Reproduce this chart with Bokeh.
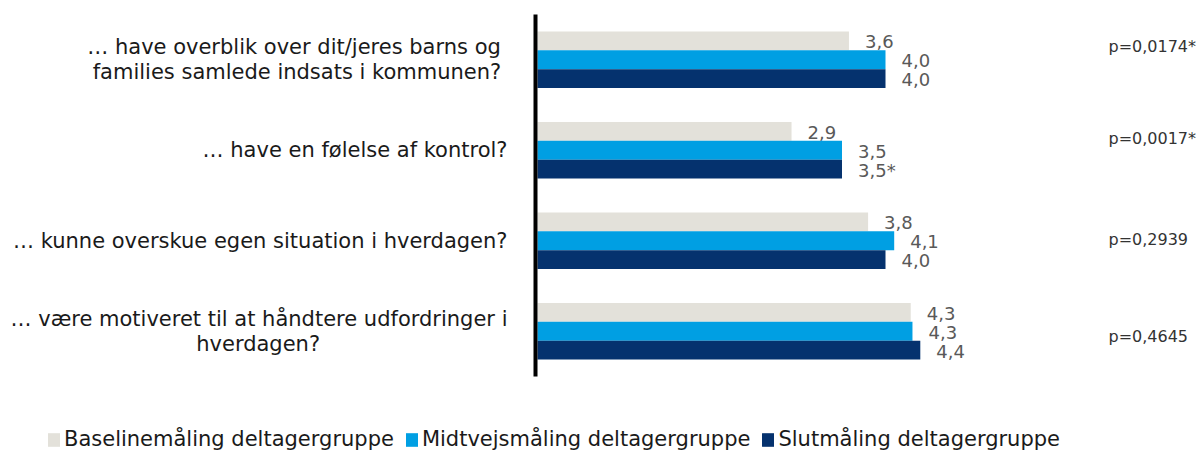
from bokeh.plotting import figure
from bokeh.models import ColumnDataSource, Range1d, Legend, LegendItem
from bokeh.transform import dodge
from bokeh.core.properties import value
from bokeh.embed import file_html
from bokeh.resources import INLINE

# ---------------- data ----------------
categories = [
    "…  have overblik over dit/jeres barns og\nfamilies samlede indsats i kommunen?",
    "… have en følelse af kontrol?",
    "… kunne overskue egen situation i hverdagen?",
    "… være motiveret til at håndtere udfordringer i\nhverdagen?",
]
series_names = ["Baselinemåling deltagergruppe", "Midtvejsmåling deltagergruppe", "Slutmåling deltagergruppe"]
baseline = [3.58, 2.92, 3.80, 4.29]
midtvejs = [4.00, 3.50, 4.10, 4.31]
slut = [4.00, 3.50, 4.00, 4.40]
baseline_flags = ["", "", "", ""]
midtvejs_flags = ["", "", "", ""]
slut_flags = ["", "*", "", ""]
p_values = ["p=0,0174*", "p=0,0017*", "p=0,2939", "p=0,4645"]

# ---------------- style / layout ----------------
colors = ["#E3E1DA", "#009FE3", "#05326E"]
FONT = "DejaVu Sans"
W, H = 1199, 452
ZERO_PX = 537          # pixel position of value 0
PX_PER_UNIT = 87.0
TOP_PX = 14            # top of first category band
CAT_PX = 90.5          # height of one category band
BAR_H = 0.2085
offsets = [BAR_H, 0.0, -BAR_H]
LABEL_GAP = 30
LINE_SP = 25
CAT_FONT_PX = 21
P_LEFT_PX = 1108
p_dy = [-13, -12, -1, 5]
AXIS_X = -2 / PX_PER_UNIT

CW = {' ': .318, 'a': .613, 'b': .635, 'c': .550, 'd': .635, 'e': .615, 'f': .352, 'g': .635,
      'h': .634, 'i': .278, 'j': .278, 'k': .579, 'l': .278, 'm': .974, 'n': .634, 'o': .612,
      'p': .635, 'r': .411, 's': .521, 't': .392, 'u': .634, 'v': .592, 'x': .592, 'y': .592,
      'æ': .981, 'ø': .612, 'å': .613, '?': .531, '/': .337, '…': 1.0, '.': .318}


def text_w(s, px):
    return sum(CW.get(ch, .6) for ch in s) * px


N = len(categories)
ypos = [-i for i in range(N)]          # category slots, first category on top
y_end = 0.5 + TOP_PX / CAT_PX
y_range = Range1d(start=y_end - H / CAT_PX, end=y_end)
x_range = Range1d(start=-ZERO_PX / PX_PER_UNIT, end=(W - ZERO_PX) / PX_PER_UNIT)

p = figure(width=W, height=H, y_range=y_range, x_range=x_range,
           output_backend="svg", toolbar_location=None,
           min_border_left=0, min_border_right=0, min_border_top=0, min_border_bottom=0)
p.xaxis.visible = False
p.yaxis.visible = False
p.outline_line_color = None
p.grid.visible = False
p.background_fill_color = "white"
p.border_fill_color = "white"

series_vals = [baseline, midtvejs, slut]
series_flags = [baseline_flags, midtvejs_flags, slut_flags]
renderers = []
for vals, flags, col, off in zip(series_vals, series_flags, colors, offsets):
    src = ColumnDataSource(dict(
        y=ypos, x=vals,
        lab=[f"{v:.1f}".replace(".", ",") + f for v, f in zip(vals, flags)],
    ))
    r = p.hbar(y=dodge("y", off), right="x", left=0, height=BAR_H,
               source=src, fill_color=col, line_color=None)
    renderers.append(r)
    p.text(x="x", y=dodge("y", off), text="lab", source=src,
           x_offset=16, y_offset=1, text_align="left", text_baseline="middle",
           text_font=value(FONT), text_font_size="18px", text_color="#595959")

# vertical axis line spanning all category bands
p.segment(x0=[AXIS_X], y0=[ypos[0] + 0.5], x1=[AXIS_X], y1=[ypos[-1] - 0.5],
          line_color="black", line_width=4)

# category labels (each line drawn separately, lines centred under the widest line)
rows = {"right": dict(y=[], x=[], t=[], xo=[], yo=[]), "center": dict(y=[], x=[], t=[], xo=[], yo=[])}
for yv, c in zip(ypos, categories):
    lines = c.split("\n")
    widths = [text_w(s, CAT_FONT_PX) for s in lines]
    wmax = max(widths)
    n = len(lines)
    for j, (s, w) in enumerate(zip(lines, widths)):
        al = "right" if w == wmax else "center"
        d = rows[al]
        d["y"].append(yv)
        d["x"].append(0)
        d["t"].append(s)
        d["yo"].append((j - (n - 1) / 2) * LINE_SP)
        d["xo"].append(-LABEL_GAP if al == "right" else -(LABEL_GAP + wmax / 2))
for al, d in rows.items():
    p.text(x="x", y="y", text="t", source=ColumnDataSource(d), x_offset="xo", y_offset="yo",
           text_align=al, text_baseline="middle", text_font=value(FONT),
           text_font_size=f"{CAT_FONT_PX}px", text_color="#1a1a1a")

# p-values
psrc = ColumnDataSource(dict(y=ypos, x=[(P_LEFT_PX - ZERO_PX) / PX_PER_UNIT] * N,
                             t=p_values, yo=p_dy))
p.text(x="x", y="y", text="t", source=psrc, y_offset="yo", text_align="left",
       text_baseline="middle", text_font=value(FONT), text_font_size="16px",
       text_color="#333333")

legend = Legend(items=[LegendItem(label=n, renderers=[r]) for n, r in zip(series_names, renderers)],
                orientation="horizontal", location=(46, 1), padding=0, margin=0,
                spacing=10, label_standoff=3, glyph_width=15, glyph_height=17,
                label_text_font=FONT, label_text_font_size="21px", label_text_color="#1a1a1a",
                border_line_color=None, background_fill_alpha=0)
p.add_layout(legend)

open("out.html", "w").write(file_html(p, INLINE))
